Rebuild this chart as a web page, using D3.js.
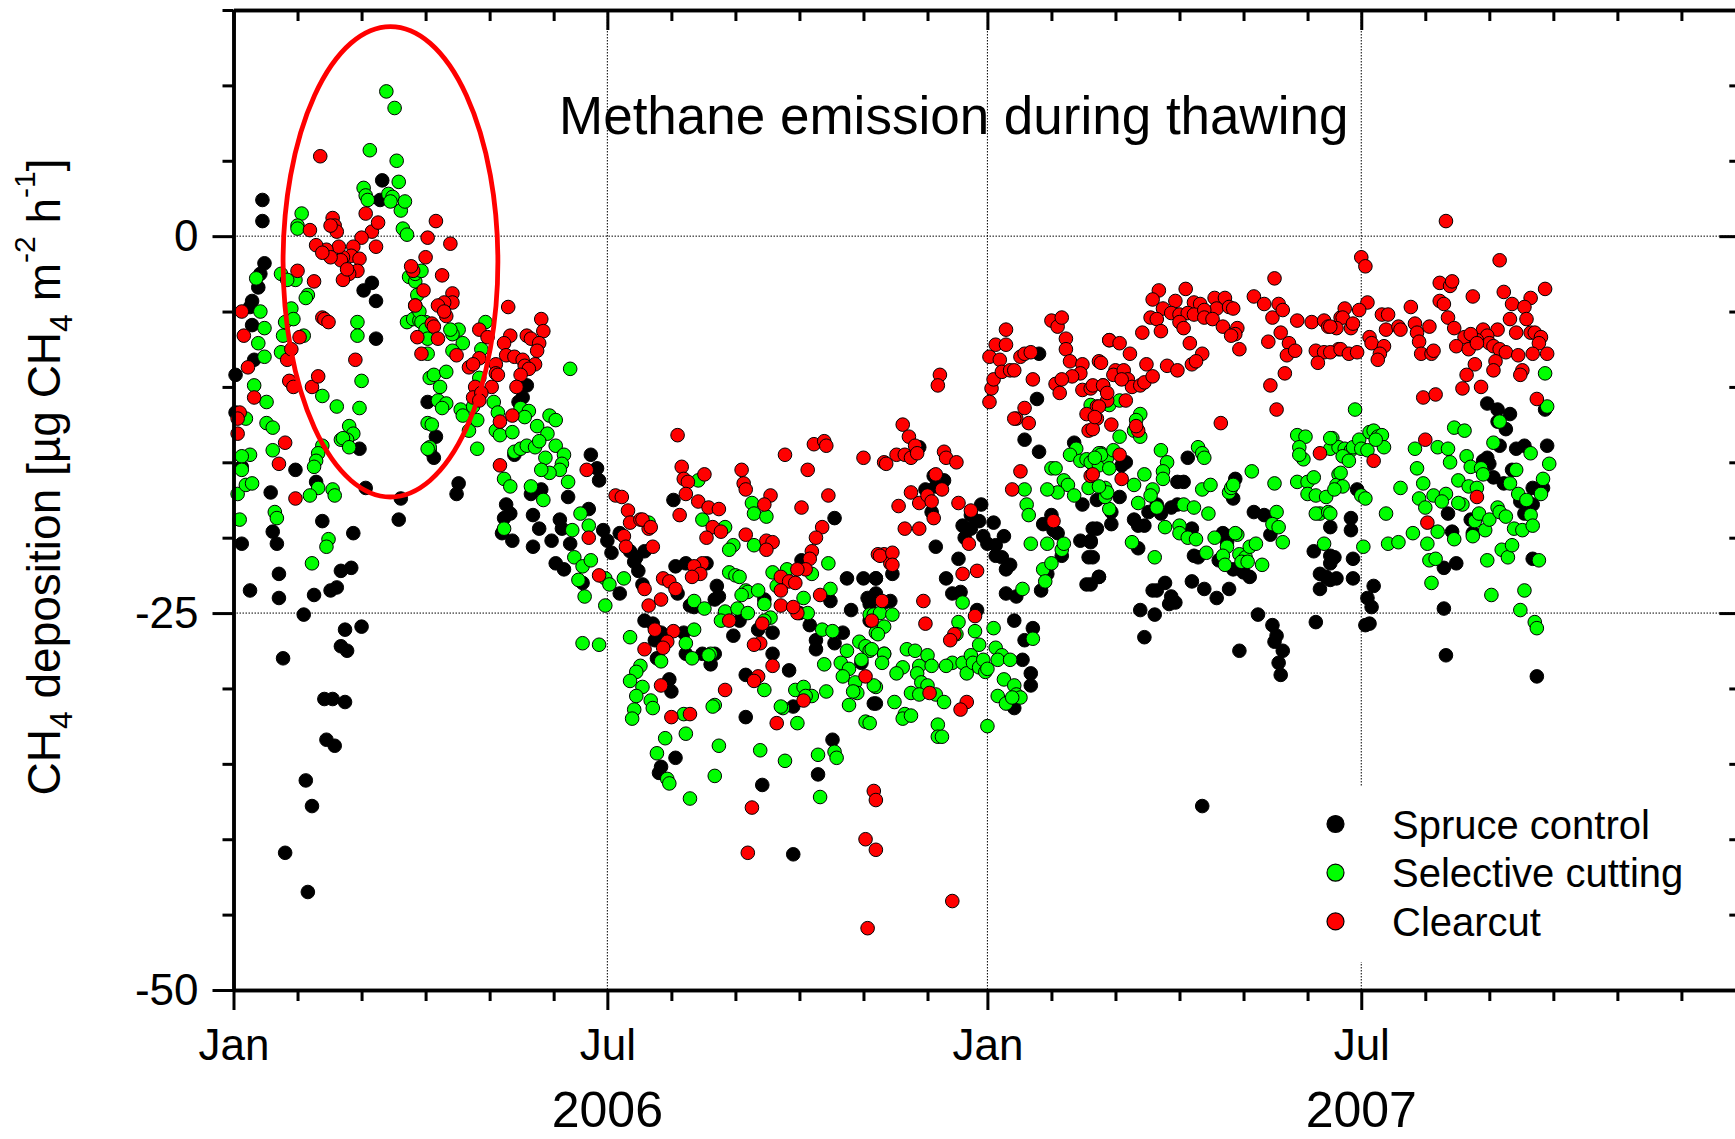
<!DOCTYPE html>
<html><head><meta charset="utf-8">
<script src="https://cdn.jsdelivr.net/npm/d3@7"></script>
<style>html,body{margin:0;padding:0;background:#fff;overflow:hidden}svg{display:block}</style>
</head><body>
<svg id="chart" width="1735" height="1139"></svg>
<script>
// ---- data: [day offset from 1 Jan 2006, CH4 deposition in µg CH4 m-2 h-1] ----
const seriesNames = ["Spruce control", "Selective cutting", "Clearcut"];
const seriesColors = ["#000000", "#00ff00", "#ff0000"];
const yMajorTicks = [0, -25, -50];
const yMinorTicks = [15, 10, 5, -5, -10, -15, -20, -30, -35, -40, -45];
const yearLabels = ["2006", "2007"];
const titleText = "Methane emission during thawing";
const ellipseSpec = {centerDay: 76.5, centerVal: -1.7, halfDays: 51.6, halfVal: 15.6};

const spruceData = [
[1,-9.2],[1,-11.7],[4,-15.3],[4,-20.4],[8,-23.5],[9,-4.3],[9,-5.9],[12,-3.4],[14,2.4],[14,1.0],[15,-1.8],[13,-2.5],[10,-8.2],[8,-4.7],
[18,-17.0],[19,-19.6],[21,-20.4],[22,-22.4],[22,-24.0],[24,-28.0],[25,-40.9],[30,-15.5],[34,-25.1],[35,-36.1],[38,-37.8],[36,-43.5],
[39,-23.8],[40,-16.3],[43,-18.9],[44,-30.7],[48,-30.7],[45,-33.4],[49,-33.8],[47,-23.5],[50,-23.3],[52,-22.2],[57,-22.0],[54,-26.1],
[52,-27.2],[55,-27.5],[54,-30.9],[58,-19.7],[62,-25.9],[61,-14.1],[63,-3.6],[67,-3.1],[69,-4.3],[69,-6.8],[72,3.7],[71,2.4],[64,-16.7],
[81,-17.4],[80,-18.8],[94,-11.0],[95,-14.2],
[98,-13.3],[97,-14.7],[109,-16.4],[108,-17.1],[142,-9.9],[140,-10.7],[138,-11.0],[136,-14.5],[132,-17.8],[134,-18.4],[131,-18.7],
[130,-19.7],[135,-20.2],[145,-18.5],[148,-19.4],[145,-20.6],[144,-17.1],[149,-16.8],[154,-20.2],[158,-18.8],[159,-19.4],[163,-20.4],
[156,-21.7],[160,-22.1],[162,-17.3],[172,-18.1],[173,-14.5],[176,-15.4],[177,-16.2],[169,-23.0],[179,-19.5],[181,-20.2],[183,-21.0],
[187,-19.7],[187,-23.7],[195,-21.3],[196,-22.2],
[213,-17.5],[291,-18.7],[192,-20.9],[194,-21.6],[199,-20.9],[214,-21.9],[219,-21.7],[229,-21.7],[198,-23.1],[215,-23.7],[221,-24.5],
[223,-24.6],[234,-23.2],[233,-24.1],[235,-23.9],[199,-25.5],[203,-25.7],[207,-26.3],[204,-26.8],[205,-28.0],[218,-26.3],[219,-27.7],
[227,-27.7],[231,-28.4],[233,-27.7],[211,-29.4],[212,-30.2],[207,-35.2],[206,-35.6],[214,-34.6],[242,-26.5],[245,-25.5],[254,-26.1],
[257,-24.1],[261,-26.3],[261,-27.7],[248,-29.1],[269,-28.8],[248,-31.9],[271,-31.2],[256,-36.4],[271,-41.0],[275,-21.5],[274,-25.0],
[279,-25.8],[282,-26.8],[282,-27.4],[289,-24.2],[291,-27.0],[295,-26.3],[297,-22.7],[305,-22.7],[311,-22.7],[299,-24.8],[307,-24.0],
[308,-25.5],[311,-23.7],[318,-24.2],[290,-33.4],[283,-35.7],[310,-31.0],[304,-28.3],
[332,-14.0],[339,-15.9],[344,-16.2],[340,-16.6],[335,-16.8],[338,-18.3],[362,-17.8],[357,-18.5],[361,-18.9],[353,-19.2],[357,-19.4],
[354,-20.0],[363,-19.9],[368,-19.0],[365,-20.4],[373,-19.9],[369,-20.5],[372,-21.3],[374,-22.1],[376,-21.8],[369,-21.2],[340,-20.6],
[351,-21.4],[345,-22.7],[348,-23.7],[352,-23.6],[360,-24.8],[311,-22.7],[319,-22.4],[308,-24.4],[315,-24.3],[311,-31.0],
[374,-23.7],[379,-23.9],[378,-25.5],[383,-26.8],[387,-26.0],[382,-28.1],[386,-29.0],[386,-29.8],[378,-31.3],[390,-7.8],[389,-10.8],
[383,-13.5],[390,-14.3],[392,-19.1],[396,-18.5],[397,-19.5],[399,-19.7],[401,-21.2],[394,-22.4],[391,-23.5],[410,-20.2],[415,-20.2],
[414,-21.3],[418,-19.4],[413,-23.1],[419,-22.6],[407,-13.7],[411,-17.8],
[415,-15.0],[418,-17.5],[416,-19.4],[415,-20.3],[416,-21.3],[419,-22.6],[415,-23.1],[425,-18.3],[425,-19.1],[429,-17.3],[430,-15.2],
[432,-15.0],[436,-18.8],[438,-19.2],[441,-19.2],[438,-20.7],[443,-18.3],[447,-17.8],[454,-18.0],[457,-17.8],[449,-18.4],[457,-16.3],
[460,-16.3],[462,-14.7],[445,-23.5],[451,-23.0],[447,-23.5],[454,-23.9],[456,-24.3],[453,-24.4],[439,-24.8],[446,-25.1],[441,-26.6],
[464,-22.9],[470,-23.4],[476,-24.0],[482,-23.4],[464,-19.4],[465,-21.2],[467,-21.3],[479,-19.7],[481,-20.3],[477,-21.5],[484,-22.1],
[489,-22.3],[492,-22.6],[485,-16.1],[484,-17.4],[494,-18.3],[499,-18.5],[502,-19.8],[496,-25.1],[503,-25.8],[505,-26.5],[504,-26.9],
[508,-27.5],[506,-28.3],[507,-29.1],[487,-27.5],[523,-20.9],[526,-22.4],[529,-22.6],[531,-21.2],[526,-23.4],[531,-19.3],[524,-25.6],
[469,-37.8],
[541,-18.7],[541,-19.5],[533,-21.3],[531,-21.7],[534,-22.7],[531,-22.8],[542,-21.4],[542,-22.7],[544,-16.8],[552,-23.2],[549,-24.0],
[551,-24.6],[548,-25.8],[550,-25.7],[588,-18.4],[590,-19.6],[586,-22.0],[592,-21.7],[586,-24.7],[587,-27.8],[599,-18.8],[600,-19.7],
[605,-14.9],[607,-14.7],[608,-15.1],[610,-16.0],[607,-11.1],[612,-11.5],[618,-11.8],[612,-12.3],[616,-12.8],[613,-13.9],[615,-16.4],
[619,-15.5],[621,-14.1],[625,-13.9],[623,-17.6],[627,-17.7],[629,-17.8],[625,-18.4],[629,-16.7],[634,-16.7],[636,-13.9],[635,-11.5],
[629,-21.4],[631,-29.2]
];

const selectiveData = [
[74,9.6],[78,8.5],[66,5.7],[79,5.0],[80,3.6],[63,3.2],[64,2.7],[65,2.4],[75,2.8],[77,2.6],[76,2.3],[81,1.7],[83,2.3],[82,0.5],[84,0.1],
[33,1.5],[31,0.7],[31,0.5],[11,-2.8],[23,-2.5],[30,-2.9],[26,-2.9],[13,-5.0],[15,-6.1],[12,-7.1],[15,-8.0],[23,-7.7],[24,-6.6],[25,-5.7],
[28,-4.8],[29,-5.5],[34,-6.6],[36,-3.9],[35,-4.1],[10,-9.9],[16,-11.0],[16,-12.4],[19,-12.7],[6,-12.1],[8,-14.5],[4,-14.6],[4,-15.5],
[19,-14.2],[2,-17.1],[6,-16.5],[9,-16.4],[20,-18.3],[21,-18.7],[3,-18.8],[43,-10.6],[50,-11.3],[61,-11.4],[56,-12.6],[58,-13.1],
[55,-13.5],[52,-13.5],[53,-13.4],[56,-14.0],[43,-13.9],[41,-14.4],[40,-14.9],[39,-15.3],[41,-16.7],[37,-17.2],[48,-16.8],[49,-17.2],
[46,-20.1],[45,-20.6],[38,-21.7],[60,-5.7],[60,-6.6],[62,-9.6],[84,-5.7],[87,-5.5],[90,-5.6],[93,-5.7],[85,-2.7],[88,-3.0],[89,-3.9],
[88,-2.5],[91,-2.3],[88,-4.6],[90,-5.0],[95,-9.4],[94,-12.4],[95,-14.0],
[91,-5.7],[93,-6.2],[94,-6.8],[94,-7.8],[109,-6.2],[106,-6.5],[105,-6.2],[111,-7.1],[106,-7.6],[122,-5.7],[120,-7.5],[97,-9.2],
[100,-10.0],[103,-9.0],[99,-10.9],[103,-11.1],[101,-11.4],[110,-11.5],[111,-11.9],[96,-12.5],[94,-14.1],[114,-12.9],[118,-14.1],
[118,-12.2],[116,-11.3],[119,-9.4],[126,-11.0],[128,-11.7],[127,-12.9],[129,-13.2],[135,-13.0],[139,-11.4],[143,-11.6],[141,-12.0],
[163,-8.8],[153,-11.9],[156,-12.2],[147,-12.6],[152,-13.1],[136,-14.3],[139,-14.1],[142,-13.9],[146,-14.0],[148,-13.6],[156,-13.9],
[160,-14.5],[159,-15.1],[158,-15.5],[151,-14.7],[153,-15.7],[149,-15.5],[162,-16.3],[131,-16.1],[134,-16.6],[144,-16.6],[150,-17.5],
[131,-19.4],[168,-18.4],[172,-19.2],[164,-19.5],[165,-21.3],[169,-21.9],[167,-22.8],[170,-23.9],[173,-21.5],[180,-22.7],[182,-23.1],
[189,-22.7],[180,-24.5],[201,-19.0],[169,-27.0],[177,-27.1],
[225,-16.2],[251,-17.7],[252,-18.4],[258,-18.6],[227,-18.8],[238,-19.3],[242,-20.5],[240,-20.8],[252,-20.5],[240,-22.3],[243,-22.5],
[245,-22.6],[248,-23.5],[249,-23.6],[254,-23.5],[246,-23.8],[261,-22.3],[263,-23.2],[268,-22.1],[280,-22.4],[276,-24.0],[289,-23.4],
[288,-21.7],[223,-24.2],[228,-24.7],[238,-24.9],[244,-24.7],[249,-25.0],[257,-24.4],[260,-25.3],[257,-25.5],[278,-25.0],[285,-26.1],
[290,-26.2],[236,-25.5],[192,-26.6],[223,-26.1],[219,-27.0],[222,-28.0],[231,-27.7],[230,-27.8],[207,-28.2],[197,-28.5],[195,-28.9],
[198,-29.9],[192,-29.5],[195,-30.5],[194,-31.4],[193,-32.0],[202,-30.8],[203,-31.3],[303,-26.9],[306,-27.2],[308,-27.5],[297,-27.5],
[294,-28.3],[298,-28.7],[304,-28.1],[315,-27.7],[311,-26.3],[295,-29.2],[301,-29.6],[302,-30.3],[300,-30.2],[311,-29.9],[298,-31.1],
[306,-32.2],[286,-28.4],[287,-30.2],[257,-30.1],[272,-30.1],[276,-29.9],[280,-30.5],[277,-30.5],[273,-32.3],[266,-31.3],[265,-31.2],
[233,-31.1],[232,-31.2],[218,-31.7],[219,-33.0],[209,-33.3],[205,-34.3],[210,-36.0],[211,-36.3],[221,-37.3],[235,-33.8],[233,-35.8],
[255,-34.1],[267,-34.8],[283,-34.4],[291,-34.2],[292,-34.6],[284,-37.2],
[308,-25.1],[310,-25.1],[313,-25.0],[319,-25.1],[315,-25.9],[312,-26.4],[309,-27.4],[315,-27.7],[314,-28.3],[310,-29.8],[308,-32.3],
[326,-27.4],[330,-27.5],[324,-28.6],[321,-29.0],[332,-28.5],[336,-27.8],[338,-28.5],[331,-29.0],[333,-29.6],[336,-29.8],[328,-30.3],
[332,-30.4],[320,-30.9],[325,-31.7],[324,-32.0],[328,-31.8],[340,-30.4],[344,-30.9],[341,-32.4],[341,-33.2],[343,-33.2],[348,-28.3],
[345,-28.5],[351,-25.6],[353,-24.3],[350,-26.4],[353,-28.3],[355,-29.0],[357,-27.8],[359,-26.2],[358,-28.3],[361,-27.1],[361,-28.6],
[364,-28.9],[363,-28.1],[365,-28.7],[368,-26.0],[369,-27.3],[372,-27.8],[370,-28.1],[376,-28.1],[373,-29.4],[370,-30.5],[374,-31.0],
[378,-29.8],[379,-30.4],[381,-30.6],[377,-30.6],[365,-32.5],[387,-26.7],[382,-23.4],[383,-16.8],[384,-17.8],[385,-18.5],[386,-20.4],
[394,-20.4],[392,-22.1],[393,-22.9],[396,-21.7],[401,-20.8],[402,-20.4],[396,-15.4],[398,-15.4],[402,-16.2],[404,-16.5],[407,-17.2],
[408,-14.1],[405,-14.5],[410,-14.9],[413,-14.8],[415,-15.0],[419,-15.2],[420,-14.4],[423,-14.7],[399,-17.0],[394,-16.8],[414,-16.7],
[422,-16.7],[424,-18.1],[415,-11.2],
[424,-11.2],[429,-10.9],[419,-14.4],[420,-14.5],[417,-14.7],[424,-15.4],[426,-14.2],[429,-13.3],[439,-11.8],[437,-12.2],[436,-12.9],
[439,-13.3],[449,-14.2],[452,-15.0],[450,-15.6],[450,-16.1],[441,-15.8],[445,-16.8],[444,-17.2],[436,-16.5],[435,-20.3],[438,-17.7],
[447,-18.0],[446,-21.3],[422,-17.3],[423,-17.0],[419,-16.6],[458,-19.2],[460,-17.8],[465,-18.0],[451,-19.3],[458,-19.7],[462,-20.0],
[466,-20.1],[472,-18.4],[469,-16.8],[473,-16.5],[467,-14.0],[469,-14.4],[470,-14.7],[482,-17.0],[483,-16.7],[484,-16.5],[475,-20.0],
[471,-21.0],[481,-20.6],[486,-19.8],[485,-19.7],[479,-21.2],[480,-21.8],[487,-21.1],[490,-21.3],[492,-20.6],[495,-20.4],[488,-21.6],
[491,-21.6],[498,-21.8],[493,-15.6],[504,-16.4],[505,-18.3],[503,-19.1],[506,-19.3],[508,-20.3],[515,-13.2],[519,-13.3],[516,-14.0],
[518,-14.8],[516,-14.5],[515,-16.3],[520,-16.3],[523,-16.0],[520,-17.1],[524,-17.2],[529,-17.3],[526,-18.4],[524,-18.4],[530,-18.3],
[532,-13.4],[531,-14.1],[535,-14.0],[535,-15.8],[534,-16.5],[528,-20.4],
[543,-11.5],[531,-13.4],[538,-14.1],[541,-14.2],[537,-14.6],[540,-14.9],[542,-14.0],[545,-13.5],[546,-14.1],[549,-14.2],[550,-13.0],
[552,-12.9],[554,-13.3],[556,-13.2],[557,-14.0],[553,-13.5],[536,-15.7],[537,-16.6],[533,-16.8],[531,-18.4],[546,-17.2],[548,-17.4],
[547,-20.6],[558,-18.4],[559,-20.4],[564,-20.3],[565,-16.7],[571,-19.7],[572,-14.1],[573,-15.4],[576,-16.4],[574,-17.4],[577,-18.0],
[581,-17.2],[587,-17.1],[585,-17.6],[578,-20.4],[579,-21.5],[582,-21.4],[580,-23.0],[583,-19.6],[591,-20.1],[591,-12.7],[596,-12.9],
[583,-14.0],[588,-14.1],[589,-15.0],[597,-14.6],[599,-15.3],[604,-15.4],[605,-15.8],[593,-16.2],[598,-16.6],[602,-16.7],[595,-17.8],
[593,-17.7],[601,-18.9],[603,-18.4],[606,-19.5],[608,-18.8],[612,-18.0],[613,-18.3],[616,-18.6],[620,-19.4],[624,-19.5],[628,-18.5],
[629,-19.2],[600,-19.9],[607,-21.5],[614,-20.8],[617,-21.3],[619,-20.5],[609,-23.8],[623,-24.8],[625,-23.5],[630,-25.6],[631,-26.0],
[610,-13.7],[613,-12.3],[628,-14.4],[622,-17.1],[626,-17.5],[618,-16.4],[621,-15.5],[633,-17.1],[634,-16.1],[637,-15.1],[636,-11.3],
[635,-9.1],[632,-21.5]
];

const clearcutData = [
[42,5.3],[48,1.2],[49,0.7],[50,0.3],[47,0.7],[37,0.4],[64,1.5],[67,0.3],[70,0.9],[62,-0.1],[58,-0.7],[57,-1.3],[53,-1.4],[52,-1.6],
[51,-0.7],[45,-0.9],[47,-1.4],[40,-0.6],[43,-1.1],[69,-0.7],[61,-1.5],[60,-2.3],[56,-2.5],[53,-2.9],[55,-2.2],[94,-0.1],[93,-1.4],
[87,-2.3],[86,-2.0],[92,-3.6],[88,-4.6],[89,-6.7],[91,-7.8],[31,-2.3],[39,-3.0],[43,-5.4],[44,-5.5],[46,-5.7],[32,-6.7],[26,-8.2],
[28,-7.5],[5,-6.6],[4,-5.0],[7,-8.7],[10,-10.7],[27,-9.6],[29,-10.0],[38,-10.0],[41,-9.3],[3,-11.7],[2,-12.1],[2,-13.1],[25,-13.7],
[22,-15.1],[30,-17.4],[59,-8.2],
[98,1.0],[105,-0.5],[101,-2.6],[106,-3.8],[106,-4.4],[102,-4.4],[99,-4.6],[103,-5.3],[102,-5.0],[96,-5.8],[97,-6.0],[99,-6.8],
[108,-7.9],[119,-6.2],[123,-6.7],[119,-8.1],[114,-8.7],[116,-8.5],[133,-4.7],[149,-5.5],[150,-6.3],[134,-6.6],[131,-7.1],[142,-6.6],
[144,-6.8],[148,-7.1],[147,-7.6],[146,-8.5],[132,-7.9],[136,-8.0],[140,-8.2],[141,-8.6],[143,-8.8],[127,-8.5],[127,-9.1],[128,-9.2],
[125,-10.0],[139,-9.2],[137,-10.0],[117,-10.0],[116,-10.7],[120,-10.4],[119,-10.9],[129,-12.3],[135,-11.9],[129,-15.2],[171,-15.5],
[172,-20.0],[177,-22.5],[185,-17.2],[188,-17.3],[191,-18.2],[192,-19.0],[189,-19.9],[190,-20.6],[197,-18.8],[201,-19.4],
[215,-13.2],[217,-15.3],[218,-16.1],[220,-16.3],[228,-15.8],[225,-17.6],[219,-17.1],[230,-18.0],[235,-18.1],[216,-18.5],[246,-15.5],
[247,-16.4],[248,-16.8],[260,-17.2],[257,-17.8],[248,-19.8],[258,-20.2],[261,-20.3],[258,-20.8],[267,-14.5],[278,-15.5],[281,-13.8],
[286,-13.6],[287,-13.9],[275,-18.0],[288,-17.2],[305,-14.7],[315,-15.0],[285,-19.3],[282,-20.0],[280,-20.9],[279,-21.4],[277,-22.1],
[273,-22.1],[232,-19.3],[236,-19.6],[229,-20.0],[198,-18.8],[202,-19.3],[203,-20.6],[227,-21.7],[223,-21.9],[226,-22.4],
[222,-22.6],[208,-22.7],[211,-22.9],[214,-23.4],[199,-23.4],[201,-24.5],[207,-24.1],[265,-22.6],[269,-22.9],[272,-23.0],[265,-23.5],
[265,-24.5],[273,-25.0],[271,-24.6],[284,-23.8],[240,-25.5],[256,-25.7],[255,-27.0],[252,-27.1],[204,-26.1],[213,-26.2],[210,-26.9],
[208,-27.3],[199,-27.4],[261,-28.5],[254,-29.2],[252,-29.5],[238,-30.1],[276,-30.8],[263,-32.3],[207,-29.8],[212,-31.9],[221,-31.7],
[314,-24.2],[309,-25.5],[315,-21.1],[312,-21.1],[318,-21.7],[306,-29.2],[251,-37.9],[249,-40.9],[310,-36.8],[311,-37.4],[306,-40.0],
[311,-40.7],[307,-45.9],
[342,-9.2],[341,-9.9],[324,-12.5],[327,-13.3],[330,-13.9],[321,-14.5],[325,-14.5],[328,-14.7],[331,-14.4],[316,-15.1],[344,-14.3],
[345,-14.7],[350,-15.0],[340,-15.8],[343,-16.8],[328,-17.0],[332,-17.7],[336,-17.2],[338,-17.6],[322,-17.9],[339,-18.7],[351,-17.7],
[357,-18.2],[325,-19.4],[332,-19.4],[313,-21.2],[319,-21.0],[319,-21.8],[356,-20.4],[353,-22.4],[360,-22.2],[334,-24.2],
[335,-25.7],[359,-25.2],[349,-26.4],[347,-26.8],[337,-30.3],[355,-30.9],[352,-31.4],[348,-44.1],
[366,-8.0],[367,-10.1],[366,-11.0],[368,-9.5],[369,-7.2],[371,-8.2],[372,-9.0],[374,-7.2],[374,-6.2],[376,-8.9],[378,-8.9],[381,-8.0],
[383,-7.8],[386,-7.7],[387,-9.5],[396,-5.6],[399,-6.0],[401,-5.4],[403,-6.8],[403,-7.5],[405,-8.3],[411,-8.5],[410,-9.1],[406,-9.3],
[398,-9.8],[401,-9.5],[400,-10.4],[411,-10.2],[415,-10.1],[421,-9.9],[419,-8.3],[424,-6.9],[418,-11.3],[423,-10.9],[413,-11.8],
[418,-12.1],[414,-12.9],[379,-12.1],[383,-11.4],[378,-12.1],[385,-12.4],[381,-15.6],[377,-16.8],[397,-18.9],[415,-15.9],
[504,-2.8],[448,-3.6],[461,-3.5],[445,-4.2],[456,-4.3],[465,-4.4],[468,-4.5],[475,-4.1],[480,-4.1],[476,-4.8],[482,-4.7],[484,-4.8],
[450,-4.8],[454,-5.1],[444,-5.4],[447,-5.5],[458,-5.2],[462,-5.1],[465,-5.2],[470,-4.9],[470,-5.4],[474,-5.5],[458,-5.7],[460,-6.1],
[479,-6.0],[486,-6.1],[485,-6.5],[483,-6.6],[487,-7.5],[449,-6.3],[440,-6.4],[463,-7.1],[469,-7.8],[464,-8.5],[466,-8.3],[452,-8.6],
[457,-8.9],[442,-8.5],[434,-7.8],[424,-6.9],[429,-7.1],[420,-8.4],[427,-8.9],[426,-9.2],[431,-8.9],[433,-9.5],[435,-10.0],[439,-9.9],
[441,-9.7],[445,-9.3],[416,-9.9],[421,-9.9],[423,-10.4],[430,-9.5],[432,-10.9],[416,-12.8],[419,-11.3],[417,-12.0],[425,-12.5],
[438,-12.9],[437,-12.6],[429,-14.5],[430,-16.1],[416,-15.8],[478,-12.4],[494,-4.0],[499,-4.5],[503,-5.4],[506,-4.5],[508,-4.9],
[515,-5.6],[522,-5.7],[528,-5.6],[530,-6.0],[507,-6.4],[501,-7.0],[511,-7.1],[510,-7.9],[514,-7.6],[524,-7.6],[528,-7.7],[525,-8.4],
[509,-9.1],[502,-9.9],[505,-11.5],[526,-14.4],[536,-5.4],[535,-7.5],
[587,1.0],[546,-1.4],[548,-2.0],[613,-1.6],[584,-3.1],[589,-3.3],[590,-3.0],[600,-4.0],[615,-3.7],[635,-3.5],[628,-4.1],[619,-4.5],
[625,-4.7],[626,-5.5],[618,-5.5],[621,-6.4],[628,-6.4],[630,-6.4],[633,-6.7],[632,-7.1],[612,-6.2],[605,-6.2],[607,-6.6],[608,-7.1],
[602,-6.9],[596,-6.7],[599,-6.5],[592,-7.3],[598,-7.5],[602,-7.1],[610,-7.3],[613,-7.5],[616,-7.7],[611,-8.3],[610,-8.9],[601,-8.5],
[597,-9.2],[595,-10.1],[604,-10.0],[622,-7.9],[624,-8.9],[623,-9.2],[629,-7.8],[636,-7.8],[631,-10.8],
[538,-4.8],[537,-5.4],[541,-6.1],[542,-5.8],[549,-4.4],[545,-4.9],[534,-6.1],[531,-6.0],[531,-7.7],[536,-7.5],[540,-7.8],[544,-7.7],
[550,-6.7],[551,-7.1],[557,-7.3],[555,-7.8],[554,-8.2],[556,-5.2],[559,-5.2],[558,-6.2],[564,-6.0],[565,-6.2],[570,-4.7],[572,-5.8],
[573,-6.4],[574,-7.0],[575,-7.8],[579,-6.0],[580,-7.8],[581,-7.6],[584,-4.3],[586,-4.5],[588,-5.4],[591,-6.1],[576,-10.7],[582,-10.5],
[577,-13.5],[552,-14.9],[578,-19.0],[602,-17.3]
];

// ---- layout ----
const W = 1735, H = 1139;
const plot = {left: 233.5, top: 10, bottom: 990};
const t0 = new Date(Date.UTC(2006, 0, 1)), t1 = new Date(Date.UTC(2008, 0, 1));
const pxPerDay = 2.0655;
const x = d3.scaleUtc().domain([t0, t1]).range([plot.left, plot.left + 730 * pxPerDay]);
const y = d3.scaleLinear().domain([-50, 15]).range([plot.bottom, plot.top]);
const dayDate = d => d3.utcDay.offset(t0, d);
const FONT = "'Liberation Sans', Arial, Helvetica, sans-serif";

const svg = d3.select("#chart");
svg.append("rect").attr("width", W).attr("height", H).attr("fill", "#fff");

// tick positions
const majorDates = [new Date(Date.UTC(2006,0,1)), new Date(Date.UTC(2006,6,1)), new Date(Date.UTC(2007,0,1)), new Date(Date.UTC(2007,6,1)), new Date(Date.UTC(2008,0,1))];
const labelledDates = majorDates.slice(0, 4);
const minorDates = [];
majorDates.slice(0, -1).forEach(m => { for (let k = 1; k <= 5; k++) minorDates.push(d3.utcDay.offset(m, 31 * k)); });
const xRight = x.range()[1];

// gridlines
const grid = svg.append("g").attr("stroke", "#000").attr("stroke-width", 1).attr("stroke-dasharray", "1.5,1.5");
[0, -25].forEach(v => grid.append("line").attr("x1", plot.left).attr("x2", xRight).attr("y1", y(v)).attr("y2", y(v)));
majorDates.slice(1, 4).forEach(d => grid.append("line").attr("x1", x(d)).attr("x2", x(d)).attr("y1", plot.top).attr("y2", plot.bottom));

// points: black, green, red (red on top)
const allSeries = [spruceData, selectiveData, clearcutData];
allSeries.forEach((data, i) => {
  svg.append("g").selectAll("circle").data(data).join("circle")
    .attr("cx", d => x(dayDate(d[0]))).attr("cy", d => y(d[1])).attr("r", 6.8)
    .attr("fill", seriesColors[i]).attr("stroke", "#000").attr("stroke-width", 1);
});

// annotation ellipse
const ec = dayDate(ellipseSpec.centerDay);
svg.append("ellipse")
  .attr("cx", x(ec)).attr("cy", y(ellipseSpec.centerVal))
  .attr("rx", x(dayDate(ellipseSpec.centerDay + ellipseSpec.halfDays)) - x(ec))
  .attr("ry", y(ellipseSpec.centerVal - ellipseSpec.halfVal) - y(ellipseSpec.centerVal))
  .attr("fill", "none").attr("stroke", "#ff0000").attr("stroke-width", 4.8);

// legend (white background hides gridline)
const lg = svg.append("g");
lg.append("rect").attr("x", 1305).attr("y", 786).attr("width", 420).attr("height", 176).attr("fill", "#fff");
seriesNames.forEach((name, i) => {
  const cy = 824 + i * 48.7;
  lg.append("circle").attr("cx", 1335.5).attr("cy", cy).attr("r", 8.5)
    .attr("fill", seriesColors[i]).attr("stroke", "#000").attr("stroke-width", 1.2);
  lg.append("text").attr("x", 1392).attr("y", cy + 14.5).text(name)
    .attr("font-family", FONT).attr("font-size", 40).attr("fill", "#000");
});

// axes
function styleAxis(g) {
  g.selectAll(".domain").attr("stroke", "#000").attr("stroke-width", 3.5);
  g.selectAll(".tick line").attr("stroke", "#000").attr("stroke-width", 3);
  g.selectAll("text").attr("font-family", FONT).attr("font-size", 44).attr("fill", "#000");
}
const fmtY = d => String(d);
// bottom
svg.append("g").attr("transform", `translate(0,${plot.bottom})`)
  .call(d3.axisBottom(x).tickValues(minorDates).tickSize(11).tickFormat("").tickSizeOuter(0)).call(styleAxis);
svg.append("g").attr("transform", `translate(0,${plot.bottom})`)
  .call(d3.axisBottom(x).tickValues(labelledDates).tickSize(20).tickPadding(19).tickFormat(d3.utcFormat("%b")).tickSizeOuter(0)).call(styleAxis);
// top (inward ticks)
svg.append("g").attr("transform", `translate(0,${plot.top})`)
  .call(d3.axisTop(x).tickValues(minorDates).tickSize(-11).tickFormat("").tickSizeOuter(0)).call(styleAxis);
svg.append("g").attr("transform", `translate(0,${plot.top})`)
  .call(d3.axisTop(x).tickValues(majorDates).tickSize(-20).tickFormat("").tickSizeOuter(0)).call(styleAxis);
// left
svg.append("g").attr("transform", `translate(${plot.left},0)`)
  .call(d3.axisLeft(y).tickValues(yMinorTicks).tickSize(11).tickFormat("").tickSizeOuter(0)).call(styleAxis);
svg.append("g").attr("transform", `translate(${plot.left},0)`)
  .call(d3.axisLeft(y).tickValues(yMajorTicks).tickSize(21).tickPadding(14).tickFormat(fmtY).tickSizeOuter(0)).call(styleAxis);
// right (inward ticks)
svg.append("g").attr("transform", `translate(${xRight},0)`)
  .call(d3.axisRight(y).tickValues(yMinorTicks).tickSize(-12).tickFormat("").tickSizeOuter(0)).call(styleAxis);
svg.append("g").attr("transform", `translate(${xRight},0)`)
  .call(d3.axisRight(y).tickValues(yMajorTicks).tickSize(-22).tickFormat("").tickSizeOuter(0)).call(styleAxis);

// year labels
yearLabels.forEach((yr, i) => {
  svg.append("text").attr("x", x(majorDates[2 * i + 1])).attr("y", 1127).attr("text-anchor", "middle")
    .attr("font-family", FONT).attr("font-size", 50).attr("fill", "#000").text(yr);
});

// title annotation
svg.append("text").attr("x", 559).attr("y", 134).attr("font-family", FONT).attr("font-size", 53)
  .attr("fill", "#000").text(titleText);

// y-axis label
const yl = svg.append("text").attr("transform", "translate(60,477) rotate(-90)").attr("text-anchor", "middle")
  .attr("font-family", FONT).attr("font-size", 46).attr("fill", "#000");
yl.append("tspan").text("CH");
yl.append("tspan").attr("font-size", 32).attr("dy", 12).text("4");
yl.append("tspan").attr("dy", -12).text(" deposition [µg CH");
yl.append("tspan").attr("font-size", 32).attr("dy", 12).text("4");
yl.append("tspan").attr("dy", -12).text(" m");
yl.append("tspan").attr("font-size", 30).attr("dy", -25).text("-2");
yl.append("tspan").attr("dy", 25).text(" h");
yl.append("tspan").attr("font-size", 30).attr("dy", -25).text("-1");
yl.append("tspan").attr("dy", 25).text("]");
</script>
</body></html>
